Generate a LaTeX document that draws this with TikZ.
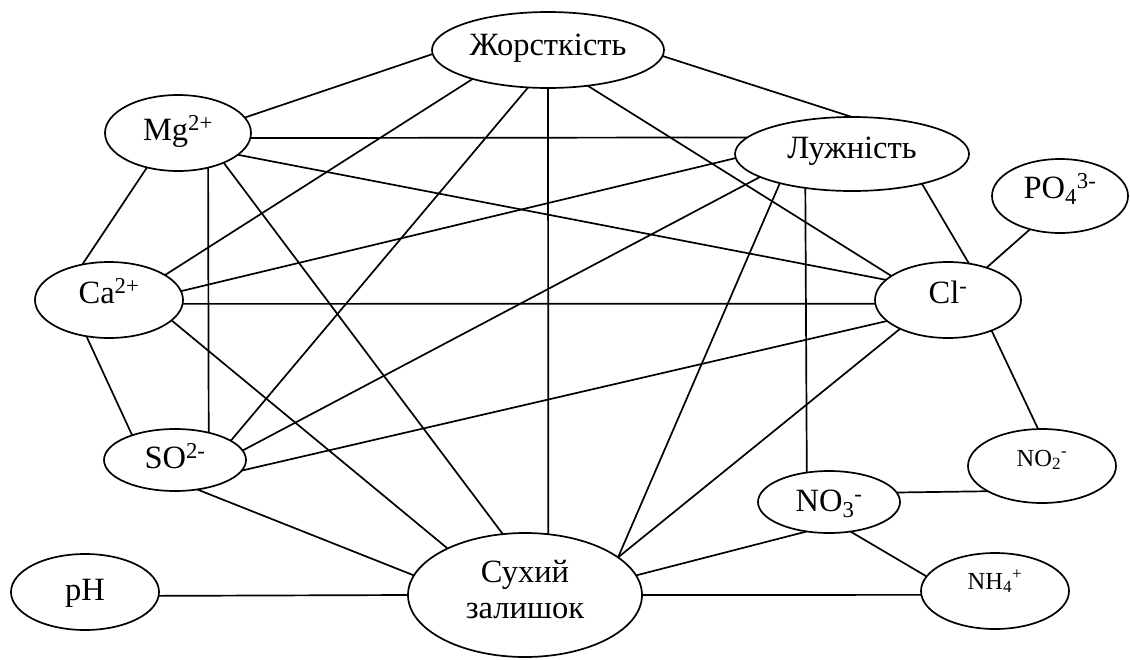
\documentclass[tikz,border=0pt]{standalone}
\usepackage{fontspec}
\setmainfont{Liberation Serif}
\usetikzlibrary{shapes.geometric}
\newcommand\rtxt[2]{\raisebox{#1}[0pt][0pt]{#2}}
\begin{document}
\begin{tikzpicture}[x=1pt,y=-1pt,
  el/.style={draw, ellipse, line width=1.7pt, inner sep=0pt, outer sep=0pt,
             font=\fontsize{32.5}{36}\selectfont},
  sm/.style={font=\fontsize{24.5}{28}\selectfont},
  ln/.style={line width=1.7pt}]
\useasboundingbox (0,0) rectangle (1130,659);

\node[el, minimum width=232pt, minimum height=76pt] (Zh) at (548,50) {\rtxt{-5pt}{Жорсткість}};
\node[el, minimum width=146pt, minimum height=76pt] (Mg) at (178,133) {\rtxt{-7pt}{Mg\textsuperscript{2+}}};
\node[el, minimum width=234pt, minimum height=74pt] (L) at (852,154) {\rtxt{-4pt}{Лужність}};
\node[el, minimum width=136pt, minimum height=74pt] (PO) at (1060,196) {\rtxt{-2pt}{PO\textsubscript{4}\textsuperscript{3-}}};
\node[el, minimum width=146pt, minimum height=76pt] (Cl) at (948,300) {\rtxt{-3pt}{Cl\textsuperscript{-}}};
\node[el, minimum width=148pt, minimum height=76pt] (Ca) at (109,300) {\rtxt{-3pt}{Ca\textsuperscript{2+}}};
\node[el, minimum width=142pt, minimum height=62pt] (SO) at (175,460) {\rtxt{-8pt}{SO\textsuperscript{2-}}};
\node[el, minimum width=148pt, minimum height=76pt] (pH) at (85,592) {\rtxt{-8pt}{pH}};
\node[el, minimum width=234pt, minimum height=124pt] (S) at (525,595) {\rtxt{-23pt}{\begin{tabular}[b]{@{}c@{}}Сухий\\залишок\end{tabular}}};
\node[el, minimum width=142pt, minimum height=62pt] (NO3) at (829,502) {\rtxt{-9pt}{NO\textsubscript{3}\textsuperscript{-}}};
\node[el, sm, minimum width=148pt, minimum height=74pt] (NO2) at (1042,466) {\rtxt{0pt}{NO\textsubscript{2}\textsuperscript{-}}};
\node[el, sm, minimum width=148pt, minimum height=76pt] (NH4) at (995,591) {\rtxt{2pt}{NH\textsubscript{4}\textsuperscript{+}}};

\draw[ln] (Zh.182.5) -- (Mg.13.2);
\draw[ln] (Zh.357.5) -- (L.90);
\draw[ln] (Zh.201.5) -- (Ca.24.1);
\draw[ln] (Zh.242.2) -- (SO.19);
\draw[ln] (Zh.270) -- (S.69.3);
\draw[ln] (Zh.318.8) -- (Cl.157.4);
\draw[ln] (Mg.356) -- (L.171.5);
\draw[ln] (Mg.340.5) -- (Cl.162.1);
\draw[ln] (Mg.228.5) -- (Ca.127.6);
\draw[ln] (Mg.311.5) -- (SO.39.5);
\draw[ln] (Mg.327.4) -- (S.110.4);
\draw[ln] (Ca.7.8) -- (L.182);
\draw[ln] (Ca.357.7) -- (Cl.183);
\draw[ln] (Ca.238.1) -- (SO.150.7);
\draw[ln] (Ca.342.1) -- (S.149.8);
\draw[ln] (SO.8.9) -- (L.194.9);
\draw[ln] (SO.351.6) -- (Cl.199.2);
\draw[ln] (SO.307.2) -- (S.170.9);
\draw[ln] (L.202.7) -- (S.22.1);
\draw[ln] (L.216.1) -- (NO3.127.7);
\draw[ln] (L.337.4) -- (Cl.60.4);
\draw[ln] (Cl.211.8) -- (S.22);
\draw[ln] (Cl.40.2) -- (PO.228.6);
\draw[ln] (Cl.325.4) -- (NO2.96.2);
\draw[ln] (NO3.8.2) -- (NO2.205.3);
\draw[ln] (NO3.306.3) -- (NH4.168.5);
\draw[ln] (NO3.233.4) -- (S.10.2);
\draw[ln] (S.0) -- (NH4.183.1);
\draw[ln] (pH.357.7) -- (S.180);
\end{tikzpicture}
\end{document}
